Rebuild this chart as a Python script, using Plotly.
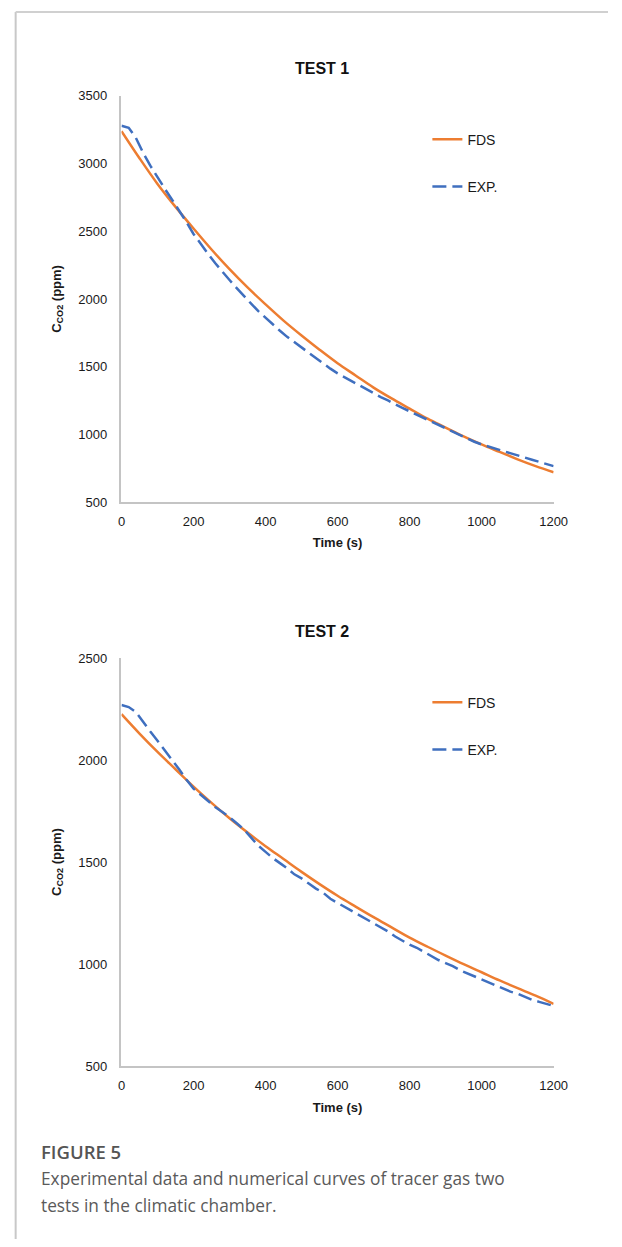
import plotly.graph_objects as go

# ---------------- data ----------------
t_fds = [0, 50, 100, 150, 200, 250, 300, 350, 400, 450, 500, 550, 600,
         650, 700, 750, 800, 850, 900, 950, 1000, 1050, 1100, 1150, 1200]
fds_test1 = [3240, 3040, 2850, 2680, 2520, 2365, 2220, 2085, 1960, 1840, 1730,
             1625, 1525, 1435, 1345, 1265, 1190, 1115, 1050, 985, 925, 870,
             815, 765, 720]
fds_test2 = [2225, 2130, 2040, 1955, 1870, 1790, 1715, 1645, 1578, 1515, 1452,
             1392, 1335, 1282, 1230, 1180, 1130, 1085, 1042, 1000, 960, 920,
             882, 845, 805]

t_exp = list(range(0, 1201, 20))
exp_test1 = [3280, 3265, 3190, 3080, 2985, 2895, 2815, 2735, 2655, 2570, 2480,
             2405, 2335, 2265, 2200, 2140, 2080, 2020, 1965, 1910, 1860, 1810,
             1765, 1720, 1680, 1640, 1600, 1560, 1520, 1485, 1450, 1420, 1390,
             1360, 1330, 1300, 1275, 1250, 1220, 1195, 1170, 1145, 1120, 1090,
             1065, 1040, 1015, 990, 968, 945, 925, 908, 893, 877, 860, 845,
             828, 812, 796, 780, 765]
exp_test2 = [2270, 2260, 2235, 2185, 2140, 2095, 2050, 2005, 1955, 1905, 1860,
             1830, 1800, 1770, 1745, 1720, 1690, 1660, 1620, 1580, 1550, 1520,
             1495, 1470, 1440, 1420, 1395, 1370, 1350, 1320, 1300, 1280, 1260,
             1240, 1220, 1200, 1180, 1160, 1135, 1115, 1095, 1080, 1060, 1040,
             1020, 1005, 990, 970, 955, 940, 925, 910, 895, 880, 865, 855, 840,
             825, 815, 805, 795]

x_ticks = [0, 200, 400, 600, 800, 1000, 1200]
y_ticks_1 = [500, 1000, 1500, 2000, 2500, 3000, 3500]
y_ticks_2 = [500, 1000, 1500, 2000, 2500]
titles = ["TEST 1", "TEST 2"]
caption_head = "FIGURE 5"
caption_lines = ["Experimental data and numerical curves of tracer gas two",
                 "tests in the climatic chamber."]

# ---------------- styling ----------------
W, H = 622, 1247
ORANGE = "#ED7D31"
BLUE = "#3F6FBF"
AXIS = "#C4C4C4"
INK = "#1A1A1A"
FONT = "Liberation Sans, Arial, sans-serif"
CAPFONT = "Open Sans, Noto Sans, sans-serif"


def py(px):  # page pixel (from top) -> paper y
    return 1 - px / H


def pxx(px):  # page pixel (from left) -> paper x
    return px / W


fig = go.Figure()

series = [
    ("x", "y", "legend", fds_test1, exp_test1),
    ("x2", "y2", "legend2", fds_test2, exp_test2),
]
for xa, ya, lg, fds, exp in series:
    fig.add_trace(go.Scatter(
        x=t_fds, y=fds, mode="lines", name="FDS", xaxis=xa, yaxis=ya,
        line=dict(color=ORANGE, width=2.5, shape="spline"),
        legend=lg, legendgroup=lg + "a", hoverinfo="skip"))
    fig.add_trace(go.Scatter(
        x=t_exp, y=exp, mode="lines", name="EXP.", xaxis=xa, yaxis=ya,
        line=dict(color=BLUE, width=2.5, dash="14px,6px"),
        legend=lg, legendgroup=lg + "b", hoverinfo="skip"))

# plot areas (page pixels)
X0, X1 = 121, 566
Y1_TOP, Y1_BOT = 90, 501
Y2_TOP, Y2_BOT = 659, 1072

common_x = dict(
    range=[0, 1200], tickvals=x_ticks, showgrid=False, zeroline=False,
    showline=True, linecolor=AXIS, linewidth=1.5, ticks="",
    tickfont=dict(family=FONT, size=13, color=INK),
    ticklabelstandoff=7,
    title=dict(text="<b>Time (s)</b>", font=dict(family=FONT, size=13, color=INK),
               standoff=10),
)
common_y = dict(
    showgrid=False, zeroline=False, showline=True, linecolor=AXIS, linewidth=1.5,
    ticks="", tickfont=dict(family=FONT, size=13, color=INK),
    ticklabelstandoff=10,
    title=dict(text="<b>C<sub>CO2</sub> (ppm)</b>",
               font=dict(family=FONT, size=13, color=INK), standoff=14),
)

legend_style = dict(xanchor="left", yanchor="top", traceorder="grouped",
                    tracegroupgap=26, font=dict(family=FONT, size=14, color=INK),
                    bgcolor="rgba(0,0,0,0)", itemwidth=30)

fig.update_layout(
    width=W, height=H, margin=dict(l=0, r=0, t=0, b=0),
    paper_bgcolor="white", plot_bgcolor="white",
    showlegend=True,
    xaxis=dict(domain=[pxx(X0), pxx(X1)], anchor="y", **common_x),
    yaxis=dict(domain=[py(Y1_BOT), py(Y1_TOP)], anchor="x", range=[500, 3500],
               tickvals=y_ticks_1, **common_y),
    xaxis2=dict(domain=[pxx(X0), pxx(X1)], anchor="y2", **common_x),
    yaxis2=dict(domain=[py(Y2_BOT), py(Y2_TOP)], anchor="x2", range=[500, 2500],
                tickvals=y_ticks_2, **common_y),
    legend=dict(x=pxx(436), y=py(118), **legend_style),
    legend2=dict(x=pxx(436), y=py(688), **legend_style),
)

# chart titles
for txt, ypix in zip(titles, [62, 632]):
    fig.add_annotation(text="<b>%s</b>" % txt, x=pxx(327), y=py(ypix),
                       xref="paper", yref="paper", xanchor="center",
                       yanchor="middle", showarrow=False,
                       font=dict(family=FONT, size=16, color="#111"))

# caption
fig.add_annotation(text=caption_head, x=pxx(36), y=py(1158), xref="paper",
                   yref="paper", xanchor="left", yanchor="middle", showarrow=False,
                   font=dict(family=CAPFONT, size=18.5, color="#555", weight=600))
for line, ypix in zip(caption_lines, [1186, 1213]):
    fig.add_annotation(text=line, x=pxx(36), y=py(ypix), xref="paper",
                       yref="paper", xanchor="left", yanchor="middle",
                       showarrow=False, align="left",
                       font=dict(family=CAPFONT, size=17.3, color="#5A5A5A"))

# page frame lines (left and top)
fig.add_shape(type="line", xref="paper", yref="paper", x0=pxx(12), x1=pxx(12),
              y0=0, y1=py(5), line=dict(color="#C8C8C8", width=2))
fig.add_shape(type="line", xref="paper", yref="paper", x0=pxx(12), x1=1,
              y0=py(5), y1=py(5), line=dict(color="#D0D0D0", width=2))

fig.write_html("out.html", config={"displayModeBar": False},
               post_script="document.body.style.margin='0px';")
